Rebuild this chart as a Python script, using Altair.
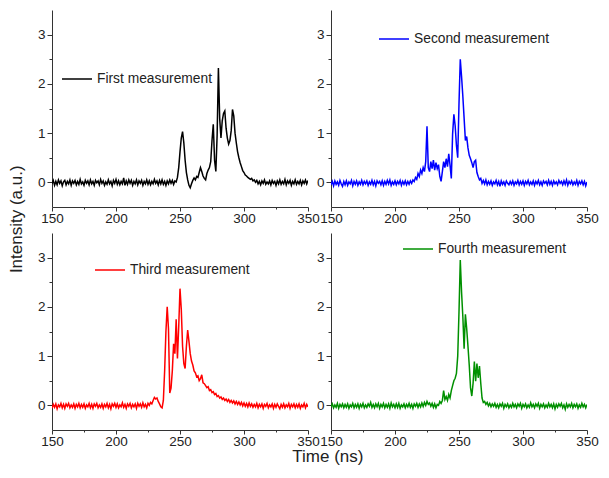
import altair as alt
import pandas as pd

time_start = 150
time_step = 1
series_names = ["First measurement", "Second measurement", "Third measurement", "Fourth measurement"]
series_colors = ["#000000", "#0000FF", "#FF0000", "#009000"]

first_vals = [
    -0.03, 0.04, -0.06, 0.02, -0.05, 0.05, -0.02, 0.03, -0.07, 0.01,
    0.04, -0.05, 0.02, -0.03, 0.05, -0.06, 0.03, -0.02, 0.04, -0.05,
    0.02, -0.04, 0.06, -0.03, 0.01, -0.06, 0.04, -0.02, 0.03, -0.05,
    0.05, -0.03, 0.02, -0.06, 0.04, -0.01, 0.03, -0.05, 0.06, -0.02,
    0.03, -0.06, 0.01, -0.04, 0.05, -0.03, 0.02, -0.07, 0.04, -0.02,
    0.06, -0.04, 0.03, -0.05, 0.02, -0.03, 0.09, -0.06, 0.03, -0.04,
    0.05, -0.02, 0.04, -0.06, 0.02, -0.03, 0.05, -0.05, 0.03, -0.02,
    0.04, -0.06, 0.02, -0.03, 0.05, -0.04, 0.03, -0.05, 0.02, -0.03,
    0.06, -0.02, 0.03, -0.05, 0.04, -0.03, 0.05, -0.04, 0.02, -0.06,
    0.03, -0.03, 0.05, -0.02, 0.04, -0.04, 0.03, 0.01, 0.10, 0.30,
    0.62, 0.90, 1.03, 0.80, 0.45, 0.20, 0.05, -0.06, -0.11, -0.03,
    0.04, 0.09, 0.05, 0.12, 0.10, 0.20, 0.30, 0.22, 0.13, 0.08,
    0.05, 0.18, 0.25, 0.30, 0.42, 0.85, 1.18, 0.45, 0.22, 0.95,
    2.32, 1.30, 0.90, 1.25, 1.40, 1.45, 1.10, 0.90, 0.78, 0.85,
    1.05, 1.48, 1.35, 1.00, 0.80, 0.62, 0.50, 0.40, 0.32, 0.24,
    0.20, 0.15, 0.13, 0.10, 0.08, 0.06, 0.08, 0.03, 0.05, 0.00,
    0.04, -0.03, 0.02, -0.05, 0.03, -0.02, 0.05, -0.04, 0.01, -0.03,
    0.03, -0.05, 0.04, -0.02, 0.02, -0.06, 0.03, -0.03, 0.05, -0.04,
    0.02, -0.03, 0.06, -0.05, 0.03, -0.02, 0.04, -0.06, 0.02, -0.03,
    0.05, -0.04, 0.02, -0.03, 0.04, -0.05, 0.03, -0.02, 0.05, -0.03,
    0.04,
]

second_vals = [
    -0.05, 0.02, -0.07, 0.03, -0.04, 0.01, -0.06, 0.04, -0.03, -0.08,
    0.02, -0.05, 0.03, -0.06, 0.01, -0.03, 0.04, -0.07, 0.02, -0.04,
    0.03, -0.06, 0.01, -0.04, 0.04, -0.05, 0.02, -0.03, 0.03, -0.06,
    0.01, -0.04, 0.04, -0.05, 0.02, -0.07, 0.03, -0.02, 0.02, -0.05,
    0.03, -0.06, 0.02, -0.04, 0.04, -0.03, 0.05, -0.06, 0.01, -0.04,
    0.03, -0.05, 0.02, -0.03, 0.04, -0.06, 0.02, -0.04, 0.03, -0.05,
    0.02, -0.04, 0.03, -0.02, 0.05, 0.02, 0.10, 0.06, 0.18, 0.12,
    0.25, 0.18, 0.30, 0.22, 0.42, 1.14, 0.30, 0.22, 0.42, 0.28,
    0.45, 0.25, 0.40, 0.28, 0.36, 0.12, 0.02, 0.22, 0.42, 0.30,
    0.48, 0.32, 0.58, 0.35, 0.08, 0.98, 1.38, 1.15, 0.75, 0.50,
    1.60, 2.50, 2.15, 1.75, 1.30, 0.85, 0.93, 0.70, 0.55, 0.48,
    0.40, 0.30, 0.42, 0.45, 0.20, 0.12, 0.05, 0.08, -0.02, 0.04,
    -0.03, 0.05, -0.05, 0.02, -0.04, 0.03, -0.06, 0.01, -0.03, 0.04,
    -0.05, 0.02, -0.08, 0.03, -0.04, 0.01, -0.06, 0.03, -0.02, -0.05,
    0.02, -0.04, 0.03, -0.06, 0.01, -0.03, 0.04, -0.05, 0.02, -0.04,
    0.03, -0.06, 0.02, -0.03, 0.04, -0.05, 0.01, -0.04, 0.03, -0.06,
    0.02, -0.03, 0.04, -0.05, 0.01, -0.06, 0.03, -0.02, 0.02, -0.05,
    0.04, -0.04, 0.02, -0.06, 0.03, -0.03, 0.01, -0.05, 0.04, -0.02,
    0.02, -0.05, 0.03, -0.04, 0.05, -0.06, 0.02, -0.03, 0.03, -0.05,
    0.01, -0.04, 0.04, -0.06, 0.02, -0.03, 0.03, -0.05, 0.02, -0.07,
    0.01,
]

third_vals = [
    -0.06, 0.02, -0.04, 0.03, -0.07, 0.01, -0.03, 0.04, -0.05, 0.02,
    -0.06, 0.03, -0.02, 0.04, -0.05, 0.01, -0.04, 0.03, -0.06, 0.02,
    -0.03, 0.04, -0.05, 0.02, -0.04, 0.03, -0.06, 0.01, -0.03, 0.04,
    -0.05, 0.02, -0.06, 0.03, -0.02, 0.04, -0.05, 0.01, -0.04, 0.03,
    -0.06, 0.02, -0.03, 0.04, -0.05, 0.02, -0.07, 0.03, -0.02, 0.04,
    -0.04, 0.03, -0.05, 0.01, -0.03, 0.05, -0.04, 0.02, -0.06, 0.03,
    -0.02, 0.04, -0.05, 0.02, -0.03, 0.03, -0.06, 0.04, -0.02, 0.03,
    -0.04, 0.05, -0.03, 0.02, -0.05, 0.04, 0.00, 0.06, 0.03, 0.10,
    0.16, 0.13, 0.15, 0.08, 0.03, -0.03, -0.05, 0.10, 0.70, 1.50,
    2.00, 1.55, 0.25, 0.35, 0.70, 1.25, 1.05, 1.75, 0.95, 1.60,
    2.37, 1.95, 1.20, 0.85, 0.75, 1.20, 1.53, 1.30, 1.05, 0.90,
    0.82, 0.70, 0.66, 0.58, 0.60, 0.50, 0.54, 0.62, 0.46, 0.44,
    0.40, 0.36, 0.38, 0.30, 0.32, 0.26, 0.28, 0.22, 0.24, 0.18,
    0.20, 0.15, 0.17, 0.12, 0.15, 0.10, 0.13, 0.08, 0.12, 0.06,
    0.10, 0.05, 0.09, 0.03, 0.08, 0.02, 0.07, 0.01, 0.06, -0.01,
    0.05, -0.02, 0.04, -0.03, 0.05, -0.02, 0.03, -0.04, 0.02, -0.03,
    0.04, -0.05, 0.02, -0.03, 0.03, -0.06, 0.02, -0.02, 0.04, -0.05,
    0.01, -0.03, 0.03, -0.06, 0.02, -0.04, 0.03, -0.02, -0.07, 0.02,
    -0.04, 0.03, -0.05, 0.01, -0.03, 0.04, -0.06, 0.02, -0.03, 0.03,
    -0.05, 0.02, -0.04, 0.03, -0.06, 0.01, -0.03, 0.04, -0.05, 0.02,
    -0.03,
]

fourth_vals = [
    -0.03, 0.03, -0.05, 0.01, -0.04, 0.04, -0.06, 0.02, -0.03, 0.03,
    -0.05, 0.02, -0.04, 0.03, -0.06, 0.01, -0.03, 0.04, -0.05, 0.02,
    -0.04, 0.03, -0.06, 0.02, -0.03, 0.04, -0.05, 0.01, -0.04, 0.03,
    -0.02, 0.06, -0.04, 0.02, -0.05, 0.03, -0.03, 0.04, -0.06, 0.02,
    -0.03, 0.04, -0.05, 0.02, -0.04, 0.03, -0.06, 0.05, -0.03, 0.02,
    -0.05, 0.03, -0.04, 0.04, -0.06, 0.01, -0.03, 0.03, -0.05, 0.02,
    -0.03, 0.04, -0.04, 0.02, -0.06, 0.03, -0.02, 0.04, -0.04, 0.03,
    -0.03, 0.05, -0.02, 0.06, 0.00, 0.08, 0.02, 0.05, -0.02, 0.04,
    -0.04, 0.03, -0.05, 0.02, 0.00, 0.08, 0.04, 0.10, 0.30, 0.12,
    0.18, 0.10, 0.22, 0.15, 0.30, 0.40, 0.50, 0.55, 0.65, 1.00,
    1.90, 2.95, 2.30, 1.80, 1.15, 1.85, 1.56, 1.20, 0.82, 0.36,
    0.19, 0.45, 0.89, 0.49, 0.85, 0.56, 0.80, 0.45, 0.15, 0.06,
    0.08, 0.02, 0.06, -0.01, 0.04, -0.03, 0.03, -0.02, 0.04, -0.04,
    0.02, -0.05, 0.03, -0.02, 0.04, -0.06, 0.02, -0.03, 0.03, -0.05,
    0.01, -0.04, 0.04, -0.03, 0.02, -0.05, 0.03, -0.02, 0.04, -0.06,
    0.02, -0.03, 0.03, -0.05, 0.01, -0.04, 0.05, -0.03, 0.02, -0.05,
    0.03, -0.02, 0.04, -0.06, 0.02, -0.03, 0.03, -0.05, 0.01, -0.04,
    0.04, -0.03, 0.02, -0.05, 0.03, -0.07, 0.02, -0.04, 0.03, -0.02,
    0.04, -0.05, 0.01, -0.08, 0.03, -0.04, 0.02, -0.03, 0.04, -0.05,
    0.02, -0.03, 0.03, -0.06, 0.01, -0.04, 0.04, -0.03, 0.02, -0.05,
    0.02,
]

x_tick_values = [150, 175, 200, 225, 250, 275, 300, 325, 350]
y_tick_values = [0, 0.5, 1, 1.5, 2, 2.5, 3]

FONT = "Liberation Sans"


def panel(name, vals, color, lx, ly):
    df = pd.DataFrame({
        "t": [time_start + i * time_step for i in range(len(vals))],
        "v": vals,
        "s": [name] * len(vals),
    })
    return alt.Chart(df).mark_line(strokeWidth=1.5, clip=True).encode(
        x=alt.X("t:Q",
                scale=alt.Scale(domain=[150, 350], nice=False, zero=False),
                axis=alt.Axis(values=x_tick_values, title=None, grid=False,
                              labelFlush=False, labelOverlap=False,
                              labelExpr="datum.value % 50 === 0 ? datum.label : ''",
                              tickSize={"condition": {"test": "datum.value % 50 === 0", "value": 4}, "value": 2},
                              labelPadding=0)),
        y=alt.Y("v:Q",
                scale=alt.Scale(domain=[-0.5, 3.5], nice=False, zero=False),
                axis=alt.Axis(values=y_tick_values, title=None, grid=False,
                              labelFlush=False, labelOverlap=False,
                              labelExpr="datum.value % 1 === 0 ? format(datum.value, 'd') : ''",
                              tickSize={"condition": {"test": "datum.value % 1 === 0", "value": 5}, "value": 3},
                              labelPadding=2)),
        color=alt.Color("s:N",
                        scale=alt.Scale(domain=[name], range=[color]),
                        legend=alt.Legend(title=None, orient="none", legendX=lx, legendY=ly,
                                          symbolType="stroke", symbolSize=900,
                                          symbolStrokeWidth=1.5, labelFontSize=13.8,
                                          labelFont=FONT, labelColor="#222222",
                                          labelOffset=4, padding=0)),
    ).properties(width=256, height=197)


p1 = panel(series_names[0], first_vals, series_colors[0], 9, 53)
p2 = panel(series_names[1], second_vals, series_colors[1], 47, 13)
p3 = panel(series_names[2], third_vals, series_colors[2], 42, 21)
p4 = panel(series_names[3], fourth_vals, series_colors[3], 71, 0)

grid = alt.concat(
    p1, p2, p3, p4, columns=2, spacing={"row": 26, "column": 23}, bounds="flush",
    title=alt.TitleParams("Intensity (a.u.)", orient="left", anchor="middle",
                          fontSize=17, font=FONT, fontWeight="normal",
                          color="#222222", offset=11, dx=9.5),
).resolve_scale(color="independent")

chart = alt.hconcat(
    grid,
    title=alt.TitleParams("Time (ns)", orient="bottom", anchor="middle",
                          fontSize=17, font=FONT, fontWeight="normal",
                          color="#222222", offset=1, dx=24.5),
).resolve_scale(color="independent").configure_view(stroke=None).configure_axis(
    domainColor="#333333", tickColor="#333333", labelColor="#222222",
    labelFont=FONT, labelFontSize=13.5, domainWidth=1, tickWidth=1,
).properties(padding={"left": 0, "top": 2, "right": 0, "bottom": 0})

chart.save("out.html", embed_options={"renderer": "svg", "actions": False})
